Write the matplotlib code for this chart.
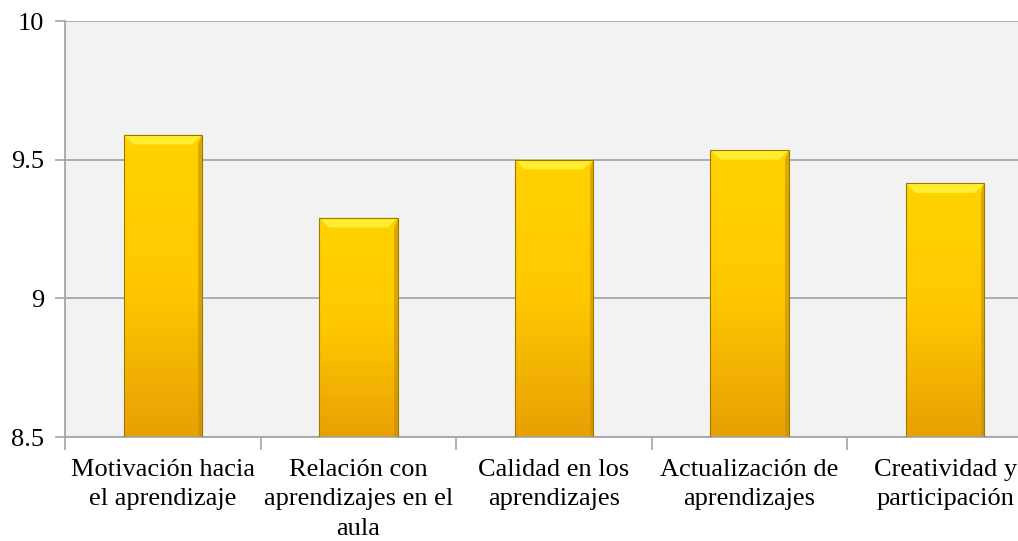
import numpy as np
import matplotlib.pyplot as plt
from matplotlib.colors import LinearSegmentedColormap
from matplotlib.patches import Polygon

OUTPUT_IMAGE = "out.png"

# Data
categories = [
    "Motivación hacia\nel aprendizaje",
    "Relación con\naprendizajes en el\naula",
    "Calidad en los\naprendizajes",
    "Actualización de\naprendizajes",
    "Creatividad y\nparticipación",
]
scores = [9.59, 9.29, 9.50, 9.535, 9.415]
y_ticks = [8.5, 9, 9.5, 10]
y_tick_labels = ["8.5", "9", "9.5", "10"]

# Colours
COLOR_PLOT_BG = "#F2F2F2"
COLOR_GRID = "#A6A6A6"
COLOR_EDGE = "#9C7A00"

plt.rcParams['font.family'] = ['Liberation Serif', 'DejaVu Serif']

fig = plt.figure(figsize=(10.18, 5.41), dpi=100)
# plot area continues past the right edge of the picture, as in the reference
ax = fig.add_axes([65 / 1018, 1 - 437 / 541, 978 / 1018, (437 - 21) / 541])
ax.set_facecolor(COLOR_PLOT_BG)

x = np.arange(len(categories))
bars = ax.bar(x, [s - 8.5 for s in scores], bottom=8.5, width=0.40,
              color="none", edgecolor=COLOR_EDGE, linewidth=0.8, zorder=3)

# vertical gradient inside each bar
grad_cmap = LinearSegmentedColormap.from_list("gold", ["#E8A004", "#FFC800", "#FFD200"])
gradient = np.linspace(0, 1, 256).reshape(-1, 1)
for bar in bars:
    x0, y0 = bar.get_x(), bar.get_y()
    w, h = bar.get_width(), bar.get_height()
    img = ax.imshow(gradient, cmap=grad_cmap, origin="lower", aspect="auto",
                    extent=[x0, x0 + w, y0, y0 + h], zorder=2,
                    interpolation="bicubic")
    img.set_clip_path(bar)
    # bevel highlight on top
    dx, dy = 0.05, 0.035
    top = y0 + h
    ax.add_patch(Polygon([[x0, top], [x0 + w, top], [x0 + w - dx, top - dy],
                          [x0 + dx, top - dy]], closed=True,
                         facecolor="#FFEE30", edgecolor="none", zorder=2.5))
    # darker side bevel
    ax.add_patch(Polygon([[x0 + w, top], [x0 + w, y0], [x0 + w - dx * 0.35, y0],
                          [x0 + w - dx * 0.35, top - dy]], closed=True,
                         facecolor="#C58F00", edgecolor="none", alpha=0.6, zorder=2.5))

ax.set_xlim(-0.5, len(categories) - 0.5)
ax.set_ylim(8.5, 10)
ax.set_yticks(y_ticks)
ax.set_yticklabels(y_tick_labels, fontsize=19)

# category labels between boundary ticks
ax.set_xticks(x)
ax.set_xticklabels(categories, fontsize=19, linespacing=1.42)
ax.tick_params(axis="x", length=0, pad=16)
ax.set_xticks(np.arange(len(categories) + 1) - 0.5, minor=True)
ax.tick_params(axis="x", which="minor", length=9, color=COLOR_GRID, width=1.2)
ax.tick_params(axis="y", length=7, color=COLOR_GRID, width=1.2, pad=8)

ax.yaxis.grid(True, color=COLOR_GRID, linewidth=1.3)
ax.set_axisbelow(True)

for side in ["top", "right"]:
    ax.spines[side].set_visible(False)
for side in ["left", "bottom"]:
    ax.spines[side].set_color(COLOR_GRID)
    ax.spines[side].set_linewidth(1.3)

fig.savefig(OUTPUT_IMAGE, dpi=100)
